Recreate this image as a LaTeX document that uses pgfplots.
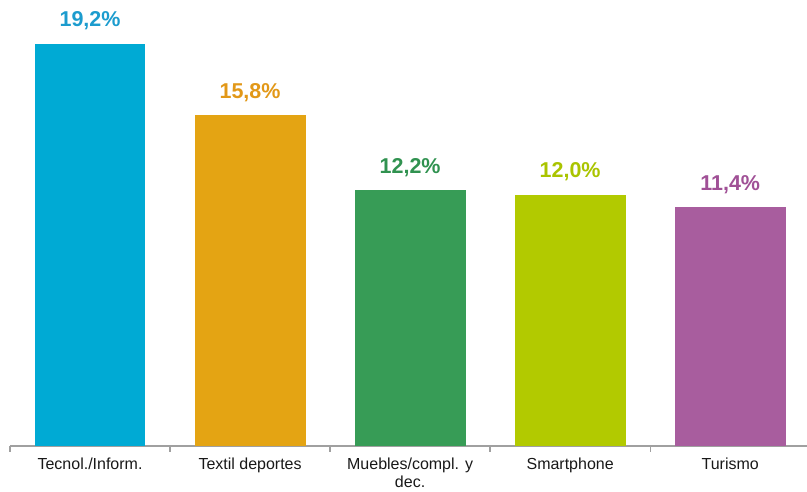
\documentclass[border=0pt]{standalone}
\usepackage{pgfplots}
\pgfplotsset{compat=1.18}
\usepackage{fontspec}
\setmainfont{Liberation Sans}
\definecolor{cBlue}{RGB}{0,170,212}
\definecolor{cOrange}{RGB}{228,164,19}
\definecolor{cGreen}{RGB}{55,156,86}
\definecolor{cLime}{RGB}{178,202,0}
\definecolor{cPurple}{RGB}{168,93,158}
\definecolor{tBlue}{RGB}{28,156,206}
\definecolor{tOrange}{RGB}{226,152,24}
\definecolor{tGreen}{RGB}{48,146,80}
\definecolor{tLime}{RGB}{170,196,0}
\definecolor{tPurple}{RGB}{160,80,150}
\definecolor{axisgray}{RGB}{160,160,160}
\definecolor{lbl}{RGB}{25,25,25}
\begin{document}
\begin{tikzpicture}
\useasboundingbox (-10pt,-46pt) rectangle (797.6pt,446pt);
\begin{axis}[
  at={(0,0)}, anchor=south west,
  scale only axis,
  width=797.6pt, height=446pt,
  xmin=-0.5, xmax=4.48,
  ymin=0, ymax=21.3,
  axis x line=bottom,
  axis y line=none,
  axis line style={draw=axisgray, line width=1.7pt, -},
  xtick={0,1,2,3,4},
  xticklabels={Tecnol./Inform., Textil deportes, {Muebles/compl. y\\dec.}, Smartphone, Turismo},
  major tick length=0pt,
  minor xtick={-0.5,0.5,1.5,2.5,3.5},
  minor tick length=6pt,
  tick align=outside,
  minor tick style={draw=axisgray, line width=1.3pt},
  xticklabel style={font={\fontsize{16}{18}\selectfont}, text=lbl, align=center, anchor=north, inner sep=0pt, yshift=-12.5pt},
  ytick=\empty,
  ybar, bar width=111pt,
  bar shift=0pt,
  clip=false,
  /pgf/number format/assume math mode=true,
  nodes near coords={\pgfmathprintnumber[fixed,fixed zerofill,precision=1,use comma]{\pgfplotspointmeta}\%},
  every node near coord/.append style={font={\fontsize{21.5}{26}\selectfont\bfseries}, anchor=base, yshift=17pt, inner sep=0pt},
]
\addplot[fill=cBlue, draw=none, every node near coord/.append style={text=tBlue}] coordinates {(0,19.2)};
\addplot[fill=cOrange, draw=none, every node near coord/.append style={text=tOrange}] coordinates {(1,15.8)};
\addplot[fill=cGreen, draw=none, every node near coord/.append style={text=tGreen}] coordinates {(2,12.2)};
\addplot[fill=cLime, draw=none, every node near coord/.append style={text=tLime}] coordinates {(3,12.0)};
\addplot[fill=cPurple, draw=none, every node near coord/.append style={text=tPurple}] coordinates {(4,11.4)};
\end{axis}
\end{tikzpicture}
\end{document}
